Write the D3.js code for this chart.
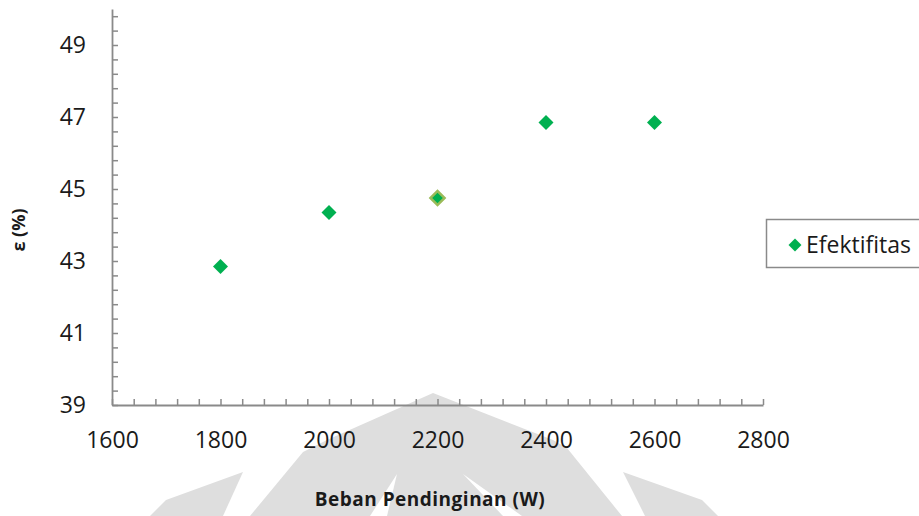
<!DOCTYPE html>
<html>
<head>
<meta charset="utf-8">
<script src="https://cdn.jsdelivr.net/npm/d3@7"></script>
<style>
  html, body { margin: 0; padding: 0; background: #ffffff; }
  svg { display: block; }
  text { font-family: "Open Sans", "Liberation Sans", sans-serif; fill: #1a1a1a; }
</style>
</head>
<body>
<svg id="chart" width="919" height="516"></svg>
<script>
// Cooling load (W) vs. effectiveness (%)
const bebanPendinginan = [1800, 2000, 2200, 2400, 2600];
const efektifitas = [42.85, 44.35, 44.75, 46.85, 46.85];
const highlightedIndex = 2;

const xTickLabels = [1600, 1800, 2000, 2200, 2400, 2600, 2800];
const yTickLabels = [39, 41, 43, 45, 47, 49];
const xDomain = [1600, 2800];
const yDomain = [39, 50];
const xMinorStep = 40;
const yMinorStep = 0.4;

const seriesName = "Efektifitas";
const xTitle = "Beban Pendinginan (W)";
const yTitle = "ε (%)";

const svg = d3.select("#chart");
const axisColor = "#8a8a8a";
const markerColor = "#00b050";
const highlightStroke = "#9bbb59";
const labelSize = 23;

const x = d3.scaleLinear().domain(xDomain).range([112, 763]);
const y = d3.scaleLinear().domain(yDomain).range([405, 9]);

// faint background emblem behind the plot
const emblem = svg.append("g").attr("fill", "#dedede");
const emblemShapes = [
  [[433,393],[553,440],[567,448],[622,516],[250,516],[303,452],[327,440]],
  [[243,472],[223,516],[150,516],[166,500]],
  [[623,472],[645,516],[718,516],[702,500]]
];
emblemShapes.forEach(p => emblem.append("polygon").attr("points", p.join(" ")));
const emblemGaps = [
  [[397,474],[387,516],[370,516]],
  [[463,474],[503,516],[522,516]]
];
emblemGaps.forEach(p => svg.append("polygon").attr("points", p.join(" ")).attr("fill", "#ffffff"));

const range = (a, b, s) => d3.range(0, Math.round((b - a) / s) + 1).map(i => +(a + i * s).toFixed(4));

// y axis: minor ticks pointing into the plot, labels on major values
const yMinor = svg.append("g")
  .attr("transform", `translate(${x.range()[0]},0)`)
  .call(d3.axisLeft(y).tickValues(range(yDomain[0], yDomain[1] - yMinorStep, yMinorStep))
    .tickSizeInner(-6).tickSizeOuter(0).tickFormat(""));
yMinor.select(".domain").attr("stroke", axisColor).attr("stroke-width", 1.8);
yMinor.selectAll(".tick line").attr("stroke", axisColor).attr("stroke-width", 1.5);

const yLabels = svg.append("g")
  .attr("transform", `translate(${x.range()[0]},0)`)
  .call(d3.axisLeft(y).tickValues(yTickLabels).tickSize(0).tickPadding(26).tickFormat(d3.format("d")));
yLabels.select(".domain").remove();
yLabels.selectAll("text").attr("font-size", labelSize).attr("fill", "#1a1a1a")
  .style("font-family", "'Open Sans', sans-serif");

// x axis: minor ticks pointing up, labels every 200 W
const xMinor = svg.append("g")
  .attr("transform", `translate(0,${y.range()[0]})`)
  .call(d3.axisBottom(x).tickValues(range(xDomain[0], xDomain[1], xMinorStep))
    .tickSizeInner(-6).tickSizeOuter(0).tickFormat(""));
xMinor.select(".domain").attr("stroke", axisColor).attr("stroke-width", 1.8);
xMinor.selectAll(".tick line").attr("stroke", axisColor).attr("stroke-width", 1.5);

const xLabels = svg.append("g")
  .attr("transform", `translate(0,${y.range()[0]})`)
  .call(d3.axisBottom(x).tickValues(xTickLabels).tickSize(0).tickPadding(27).tickFormat(d3.format("d")));
xLabels.select(".domain").remove();
xLabels.selectAll("text").attr("font-size", labelSize).attr("fill", "#1a1a1a")
  .style("font-family", "'Open Sans', sans-serif");

// axis titles
svg.append("text")
  .attr("x", 430).attr("y", 506)
  .attr("text-anchor", "middle")
  .attr("font-size", 19).attr("font-weight", "bold")
  .attr("letter-spacing", 0.5)
  .text(xTitle);

svg.append("text")
  .attr("transform", "translate(25,230) rotate(-90)")
  .attr("text-anchor", "middle")
  .attr("font-size", 18).attr("font-weight", "bold")
  .text(yTitle);

// diamond markers
const diamond = d3.symbol().type(d3.symbolSquare);
svg.append("g").selectAll("path")
  .data(bebanPendinginan.map((b, i) => ({ b, e: efektifitas[i], i })))
  .join("path")
  .attr("d", d => diamond.size(d.i === highlightedIndex ? 100 : 112)())
  .attr("transform", d => `translate(${x(d.b)},${y(d.e)}) rotate(45)`)
  .attr("fill", markerColor)
  .attr("stroke", d => d.i === highlightedIndex ? highlightStroke : "none")
  .attr("stroke-width", d => d.i === highlightedIndex ? 2.5 : 0);

// legend
const legend = svg.append("g");
legend.append("rect")
  .attr("x", 766.5).attr("y", 219.5).attr("width", 170).attr("height", 48)
  .attr("fill", "#ffffff").attr("stroke", axisColor).attr("stroke-width", 1.5);
legend.append("path")
  .attr("d", d3.symbol().type(d3.symbolSquare).size(84)())
  .attr("transform", "translate(795,245) rotate(45)")
  .attr("fill", markerColor);
legend.append("text")
  .attr("x", 806).attr("y", 253)
  .attr("font-size", labelSize)
  .text(seriesName);
</script>
</body>
</html>
